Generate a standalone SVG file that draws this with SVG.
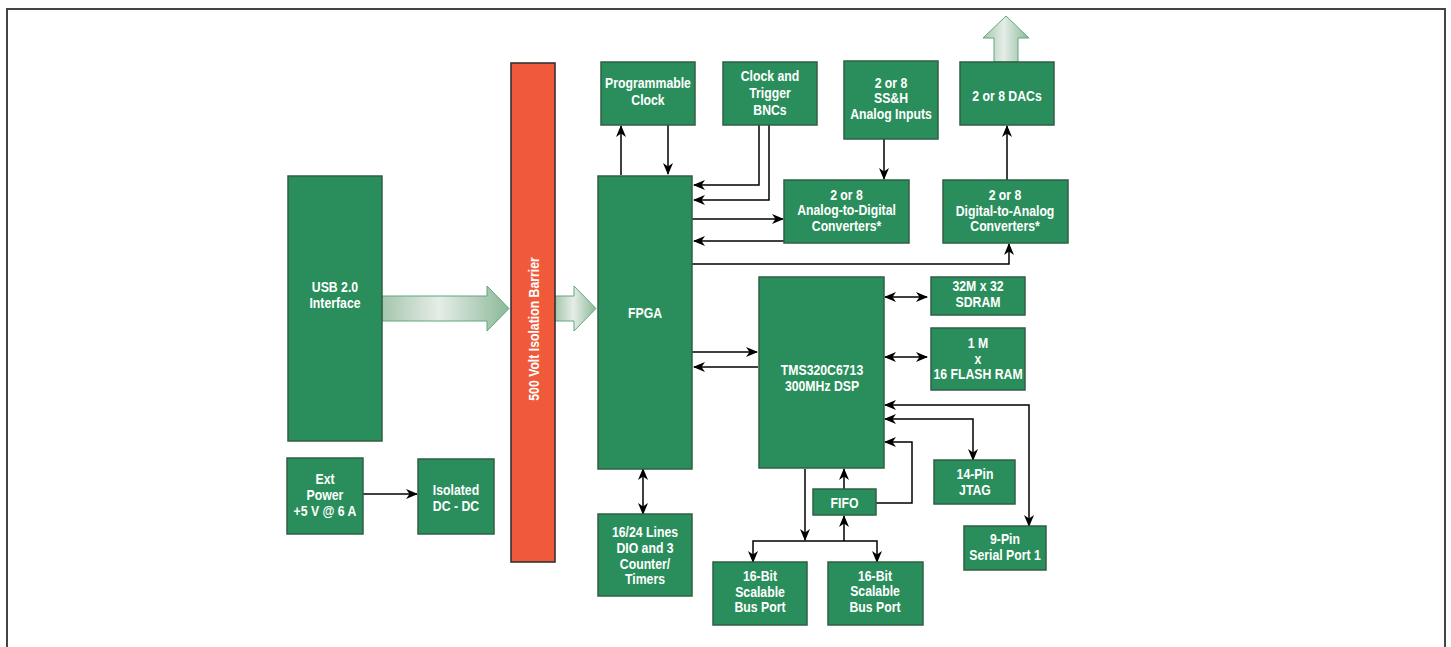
<svg xmlns="http://www.w3.org/2000/svg" width="1451" height="647" viewBox="0 0 1451 647">
<style>
.b{fill:#298e5b;stroke:#2f5f43;stroke-width:1.5}
.r{fill:#f05a3b;stroke:#333;stroke-width:1.6}
.t{font-family:"Liberation Sans",Arial,sans-serif;font-weight:bold;font-size:14.6px;fill:#fff;text-anchor:middle}
.c{fill:none;stroke:#000;stroke-width:1.5}
.e{marker-end:url(#ah)}
.d{marker-start:url(#ah);marker-end:url(#ah)}
.big{fill:url(#g);stroke:#5ea67c;stroke-width:1}
</style>
<defs>
<marker id="ah" markerUnits="userSpaceOnUse" markerWidth="12" markerHeight="10" refX="11" refY="5" orient="auto-start-reverse" viewBox="0 0 12 10">
<path d="M0,0 L12,5 L0,10 L3.5,5 z" fill="#000"/>
</marker>
<linearGradient id="g" x1="0" y1="0" x2="1" y2="0">
<stop offset="0" stop-color="#a6c5ae"/>
<stop offset="0.45" stop-color="#e5ede7"/>
<stop offset="1" stop-color="#8cb898"/>
</linearGradient>
</defs>
<rect width="1451" height="647" fill="#fff"/>
<path d="M7,647 V9 H1445 V647" fill="none" stroke="#444" stroke-width="2"/>

<g id="bigarrows">
<polygon class="big" points="382,296 487,296 487,286 509,308.5 487,331 487,321 382,321"/>
<polygon class="big" points="555,296 574,296 574,286 596,308.5 574,331 574,321 555,321"/>
<polygon class="big" points="994,62 994,38 983,38 1006,16 1029,38 1018,38 1018,62"/>
</g>

<g id="connectors">
<path class="c e" d="M621,175 V126"/>
<path class="c e" d="M668,125 V174"/>
<path class="c e" d="M759,125 V185 H694"/>
<path class="c e" d="M769,125 V200 H694"/>
<path class="c e" d="M692,219 H783"/>
<path class="c e" d="M784,241 H694"/>
<path class="c e" d="M884,139 V179"/>
<path class="c e" d="M692,264 H1009 V244"/>
<path class="c e" d="M1007,180 V126"/>
<path class="c e" d="M692,352 H757"/>
<path class="c e" d="M758,367 H694"/>
<path class="c d" d="M885,297 H927"/>
<path class="c d" d="M885,357 H927"/>
<path class="c d" d="M885,405 H1029 V526"/>
<path class="c d" d="M885,419 H973 V460"/>
<path class="c e" d="M876,503 H912 V442 H885"/>
<path class="c e" d="M844,489 V469"/>
<path class="c e" d="M805,469 V540"/>
<path class="c d" d="M753,562 V541 H877 V562"/>
<path class="c e" d="M844,541 V516"/>
<path class="c d" d="M643,469 V514"/>
<path class="c e" d="M363,494 H417"/>
</g>

<g id="barrier">
<rect class="r" x="511" y="63" width="44" height="499"/>
<text class="t" transform="translate(538.5,329) rotate(-90) scale(0.84,1)" x="0" y="0">500 Volt Isolation Barrier</text>
</g>

<g id="usb">
<rect class="b" x="288" y="176" width="94" height="265"/>
<text class="t" transform="translate(335,0) scale(0.84,1)"><tspan x="0" y="292">USB 2.0</tspan><tspan x="0" y="308">Interface</tspan></text>
</g>

<g id="extpower">
<rect class="b" x="287" y="458" width="76" height="76"/>
<text class="t" transform="translate(325,0) scale(0.84,1)"><tspan x="0" y="484">Ext</tspan><tspan x="0" y="500">Power</tspan><tspan x="0" y="516">+5 V @ 6 A</tspan></text>
</g>

<g id="isolated">
<rect class="b" x="418" y="459" width="76" height="75"/>
<text class="t" transform="translate(456,0) scale(0.84,1)"><tspan x="0" y="495">Isolated</tspan><tspan x="0" y="511">DC - DC</tspan></text>
</g>

<g id="fpga">
<rect class="b" x="598" y="176" width="94" height="293"/>
<text class="t" transform="translate(645,0) scale(0.84,1)" x="0" y="318">FPGA</text>
</g>

<g id="progclock">
<rect class="b" x="601" y="62" width="94" height="63"/>
<text class="t" transform="translate(648,0) scale(0.84,1)"><tspan x="0" y="88">Programmable</tspan><tspan x="0" y="105">Clock</tspan></text>
</g>

<g id="bnc">
<rect class="b" x="723" y="62" width="94" height="63"/>
<text class="t" transform="translate(770,0) scale(0.84,1)"><tspan x="0" y="81">Clock and</tspan><tspan x="0" y="98">Trigger</tspan><tspan x="0" y="115">BNCs</tspan></text>
</g>

<g id="ssh">
<rect class="b" x="844" y="61" width="94" height="78"/>
<text class="t" transform="translate(891,0) scale(0.84,1)"><tspan x="0" y="88">2 or 8</tspan><tspan x="0" y="103">SS&amp;H</tspan><tspan x="0" y="119">Analog Inputs</tspan></text>
</g>

<g id="dacs">
<rect class="b" x="960" y="62" width="94" height="63"/>
<text class="t" transform="translate(1007,0) scale(0.84,1)" x="0" y="101">2 or 8 DACs</text>
</g>

<g id="adc">
<rect class="b" x="784" y="180" width="125" height="63"/>
<text class="t" transform="translate(846.5,0) scale(0.84,1)"><tspan x="0" y="200">2 or 8</tspan><tspan x="0" y="215.5">Analog-to-Digital</tspan><tspan x="0" y="231">Converters*</tspan></text>
</g>

<g id="dac">
<rect class="b" x="943" y="180" width="125" height="63"/>
<text class="t" transform="translate(1005,0) scale(0.84,1)"><tspan x="0" y="200">2 or 8</tspan><tspan x="0" y="216">Digital-to-Analog</tspan><tspan x="0" y="231">Converters*</tspan></text>
</g>

<g id="dsp">
<rect class="b" x="759" y="277" width="125" height="191"/>
<text class="t" transform="translate(822,0) scale(0.84,1)"><tspan x="0" y="375">TMS320C6713</tspan><tspan x="0" y="391">300MHz DSP</tspan></text>
</g>

<g id="sdram">
<rect class="b" x="931" y="277" width="94" height="38"/>
<text class="t" transform="translate(978,0) scale(0.84,1)"><tspan x="0" y="291">32M x 32</tspan><tspan x="0" y="307">SDRAM</tspan></text>
</g>

<g id="flash">
<rect class="b" x="931" y="328" width="94" height="62"/>
<text class="t" transform="translate(978,0) scale(0.84,1)"><tspan x="0" y="348">1 M</tspan><tspan x="0" y="364">x</tspan><tspan x="0" y="379">16 FLASH RAM</tspan></text>
</g>

<g id="jtag">
<rect class="b" x="934" y="460" width="81" height="44"/>
<text class="t" transform="translate(975,0) scale(0.84,1)"><tspan x="0" y="479">14-Pin</tspan><tspan x="0" y="495">JTAG</tspan></text>
</g>

<g id="serial">
<rect class="b" x="964" y="526" width="82" height="44"/>
<text class="t" transform="translate(1005,0) scale(0.84,1)"><tspan x="0" y="544.5">9-Pin</tspan><tspan x="0" y="560.5">Serial Port 1</tspan></text>
</g>

<g id="fifo">
<rect class="b" x="813" y="489" width="63" height="26"/>
<text class="t" transform="translate(844.5,0) scale(0.84,1)" x="0" y="508">FIFO</text>
</g>

<g id="bus1">
<rect class="b" x="713" y="562" width="94" height="63"/>
<text class="t" transform="translate(760,0) scale(0.84,1)"><tspan x="0" y="581.5">16-Bit</tspan><tspan x="0" y="597">Scalable</tspan><tspan x="0" y="612.5">Bus Port</tspan></text>
</g>

<g id="bus2">
<rect class="b" x="828" y="562" width="95" height="63"/>
<text class="t" transform="translate(875,0) scale(0.84,1)"><tspan x="0" y="581">16-Bit</tspan><tspan x="0" y="596.5">Scalable</tspan><tspan x="0" y="612">Bus Port</tspan></text>
</g>

<g id="dio">
<rect class="b" x="598" y="514" width="94" height="82"/>
<text class="t" transform="translate(645,0) scale(0.84,1)"><tspan x="0" y="537">16/24 Lines</tspan><tspan x="0" y="553">DIO and 3</tspan><tspan x="0" y="568.7">Counter/</tspan><tspan x="0" y="583.7">Timers</tspan></text>
</g>
</svg>
